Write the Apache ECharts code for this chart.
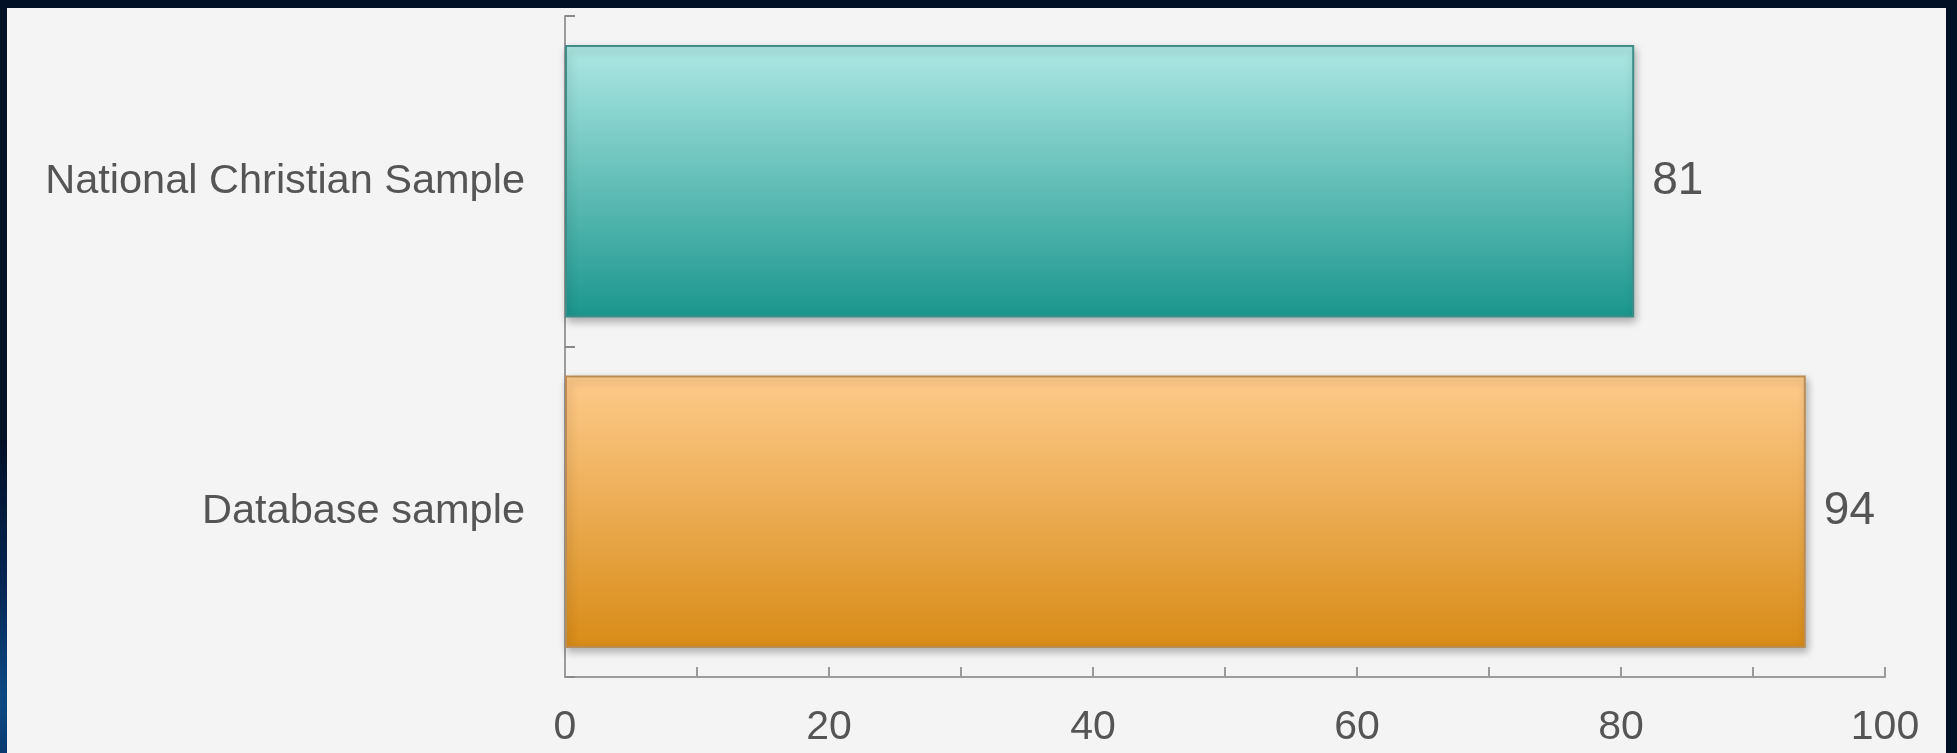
<!DOCTYPE html>
<html>
<head>
<meta charset="utf-8">
<title>Sample comparison</title>
<script src="https://cdn.jsdelivr.net/npm/echarts@6/dist/echarts.min.js"></script>
<style>
  html, body { margin: 0; padding: 0; width: 1957px; height: 753px; overflow: hidden; }
  body {
    background: radial-gradient(ellipse 120px 260px at 0px 700px, #0d4a86 0%, #062552 45%, rgba(2,16,38,0) 100%), #021026;
    position: relative;
  }
  #panel {
    position: absolute; left: 7px; top: 8px; width: 1939px; height: 745px;
    background: #f4f4f4;
  }
  #chart { position: absolute; left: 0; top: 0; width: 1957px; height: 753px; }
</style>
</head>
<body>
<div id="panel"></div>
<div id="chart"></div>
<script>
// Categories listed top to bottom, with their percentage values
const categories = ['National Christian Sample', 'Database sample'];
const values = [81, 94];
const xTicks = { min: 0, max: 100, step: 10, labelStep: 20 };

// Per-bar gradient fills (top colour, bottom colour, outline)
const barStyles = [
  { top: '#aee8e4', bottom: '#1a968d', border: '#3e8d87' },
  { top: '#fecb8c', bottom: '#d88b16', border: '#b98d55' }
];

const chart = echarts.init(document.getElementById('chart'), null, { renderer: 'canvas' });

const fontFamily = 'Arial, "Liberation Sans", sans-serif';
const textColor = '#555555';

chart.setOption({
  backgroundColor: 'transparent',
  animation: false,
  grid: { left: 565, right: 72, top: 16, bottom: 76, containLabel: false },
  xAxis: {
    type: 'value',
    min: xTicks.min,
    max: xTicks.max,
    interval: xTicks.step,
    axisLine: { show: true, lineStyle: { color: '#9c9c9c', width: 2 } },
    axisTick: { show: true, inside: true, length: 10, lineStyle: { color: '#9a9a9a', width: 2 } },
    splitLine: { show: false },
    axisLabel: {
      margin: 30,
      fontSize: 41,
      color: textColor,
      fontFamily: fontFamily,
      formatter: v => (v % xTicks.labelStep === 0 ? String(v) : '')
    }
  },
  yAxis: {
    type: 'category',
    inverse: true,
    data: categories,
    axisLine: { show: true, lineStyle: { color: '#9c9c9c', width: 2 } },
    axisTick: { show: true, inside: true, length: 10, lineStyle: { color: '#8a8a8a', width: 2 } },
    axisLabel: {
      margin: 40,
      fontSize: 41.5,
      color: textColor,
      fontFamily: fontFamily
    }
  },
  series: [{
    type: 'bar',
    barCategoryGap: '17.5%',
    data: values.map((v, i) => ({
      value: v,
      itemStyle: {
        color: new echarts.graphic.LinearGradient(0, 0, 0, 1, [
          { offset: 0, color: barStyles[i].top },
          { offset: 1, color: barStyles[i].bottom }
        ]),
        borderColor: barStyles[i].border,
        borderWidth: 2,
        shadowColor: 'rgba(0,0,0,0.28)',
        shadowBlur: 8,
        shadowOffsetX: 2,
        shadowOffsetY: 4
      }
    })),
    label: {
      show: true,
      position: 'right',
      distance: 18,
      fontSize: 46,
      color: textColor,
      fontFamily: fontFamily
    }
  }]
});
</script>
</body>
</html>
